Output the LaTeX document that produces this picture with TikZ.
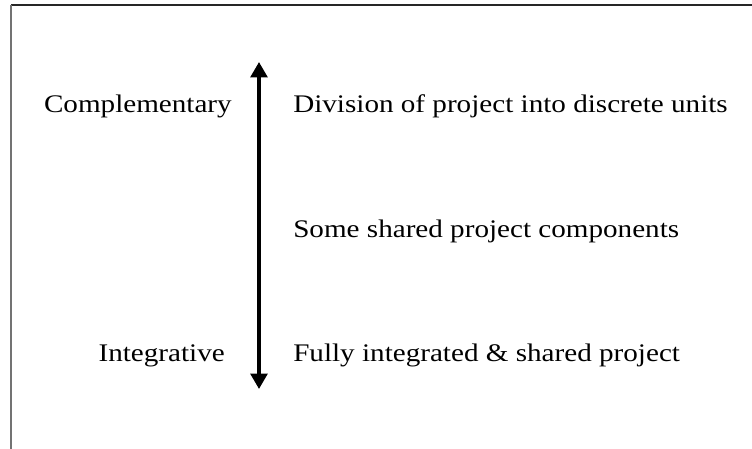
\documentclass[tikz,border=0pt]{standalone}
\usepackage{fontspec}
\setmainfont{Liberation Serif}[FakeStretch=1.15]
\usetikzlibrary{arrows.meta}
\begin{document}
\begin{tikzpicture}[x=0.75pt,y=-0.75pt,
  lbl/.style={inner sep=0pt,font=\fontsize{19}{22}\selectfont},
  frame/.style={line width=1.2pt,draw=black!55},
  axis/.style={line width=2.6pt,{Triangle[length=11.5pt,width=12.5pt]}-{Triangle[length=11.5pt,width=12.5pt]}}]
\useasboundingbox (0,0) rectangle (752,449);
% frame lines along the top and the left side
\coordinate (tl) at (11,5);
\coordinate (tr) at (752,5);
\coordinate (bl) at (11,449);
\draw[line width=1.3pt,draw=black!85] (tl) -- (tr);
\draw[frame] (tl) -- (bl);
% scale arrow
\coordinate (top) at (259,62);
\coordinate (bot) at (259,389);
\draw[axis] (bot) -- (top);
% labels on the left
\node[lbl,anchor=base east] (comp) at (232,113) {Complementary};
\node[lbl,anchor=base east] (integ) at (225,361) {Integrative};
% descriptions on the right
\node[lbl,anchor=base west] (div) at (293,113) {Division of project into discrete units};
\node[lbl,anchor=base west] (some) at (293,237) {Some shared project components};
\node[lbl,anchor=base west] (full) at (293,361) {Fully integrated \& shared project};
\end{tikzpicture}
\end{document}
